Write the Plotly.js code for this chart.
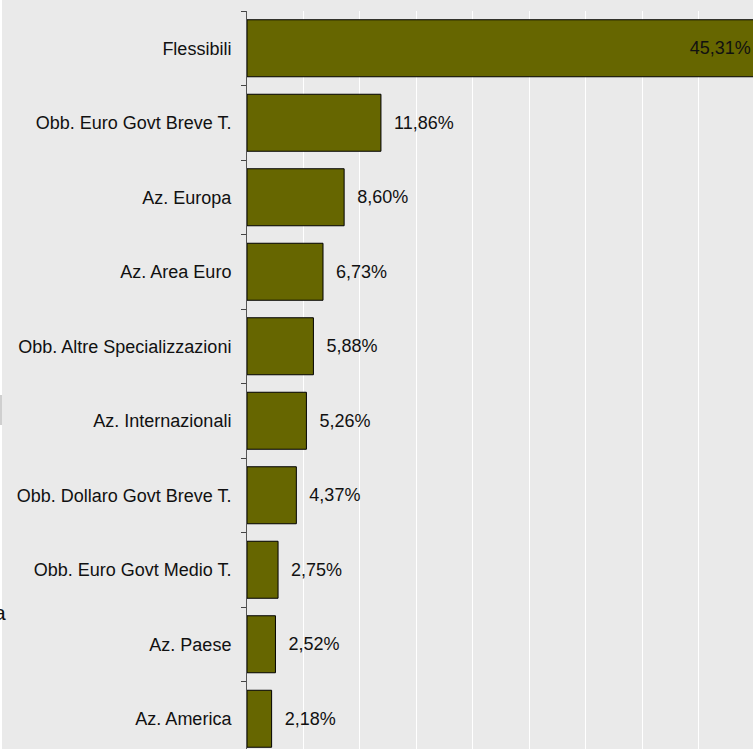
<!DOCTYPE html>
<html>
<head>
<meta charset="utf-8">
<script src="https://cdn.plot.ly/plotly-3.0.1.min.js"></script>
<style>
html, body { margin: 0; padding: 0; overflow: hidden; background: #eaeaea; }
#chart { width: 780px; height: 760px; }
</style>
</head>
<body>
<div id="chart"></div>
<script>
const categories = [
  "Flessibili",
  "Obb. Euro Govt Breve T.",
  "Az. Europa",
  "Az. Area Euro",
  "Obb. Altre Specializzazioni",
  "Az. Internazionali",
  "Obb. Dollaro Govt Breve T.",
  "Obb. Euro Govt Medio T.",
  "Az. Paese",
  "Az. America"
];
const values = [45.31, 11.86, 8.60, 6.73, 5.88, 5.26, 4.37, 2.75, 2.52, 2.18];

const W = 780, H = 760, ML = 247, MR = 0, MT = 11, MB = 4;
const PW = W - ML - MR, PH = H - MT - MB;
const px2x = p => (p - ML) / PW;
const px2y = p => 1 - (p - MT) / PH;

const trace = {
  type: 'bar',
  orientation: 'h',
  y: categories,
  x: values,
  marker: { color: '#666600', line: { color: '#000000', width: 1 } },
  texttemplate: '\u00a0\u00a0%{x:.2f}%\u00a0',
  textposition: values.map(v => v > 20 ? 'inside' : 'outside'),
  insidetextanchor: 'end',
  constraintext: 'none',
  cliponaxis: false,
  textfont: { family: 'Liberation Sans, Arial, sans-serif', size: 18, color: '#111111' },
  insidetextfont: { color: '#111111' },
  outsidetextfont: { color: '#111111' },
  hoverinfo: 'none'
};

const layout = {
  width: W, height: H,
  margin: { l: ML, r: MR, t: MT, b: MB, pad: 0 },
  paper_bgcolor: '#eaeaea',
  plot_bgcolor: '#eaeaea',
  separators: ',.',
  bargap: 0.235,
  showlegend: false,
  font: { family: 'Liberation Sans, Arial, sans-serif', size: 18, color: '#111111' },
  xaxis: {
    range: [0, PW / 11.294],
    tick0: 0, dtick: 5,
    showgrid: true, gridcolor: '#ffffff', gridwidth: 1,
    zeroline: false, showticklabels: false, ticks: '',
    showline: false, fixedrange: true
  },
  yaxis: {
    autorange: 'reversed',
    showgrid: false, zeroline: false,
    showline: true, linecolor: '#555555', linewidth: 1,
    ticks: 'outside', ticklen: 5, tickcolor: '#444444', tickwidth: 1,
    tickson: 'boundaries',
    ticklabelstandoff: 11,
    tickfont: { family: 'Liberation Sans, Arial, sans-serif', size: 18, color: '#111111' },
    fixedrange: true
  },
  shapes: [
    { type: 'rect', xref: 'paper', yref: 'paper', x0: px2x(0), x1: px2x(2), y0: px2y(0), y1: px2y(760),
      fillcolor: '#ffffff', line: { width: 0 }, layer: 'above' },
    { type: 'rect', xref: 'paper', yref: 'paper', x0: px2x(0), x1: px2x(2), y0: px2y(395), y1: px2y(425),
      fillcolor: '#cfcfcf', line: { width: 0 }, layer: 'above' }
  ],
  annotations: [
    { text: 'a', xref: 'paper', yref: 'paper', x: px2x(7.5), y: px2y(612),
      xanchor: 'right', yanchor: 'middle', showarrow: false,
      font: { family: 'Liberation Sans, Arial, sans-serif', size: 21, color: '#111111' } }
  ]
};

Plotly.newPlot('chart', [trace], layout, { displayModeBar: false, staticPlot: true });
</script>
</body>
</html>
